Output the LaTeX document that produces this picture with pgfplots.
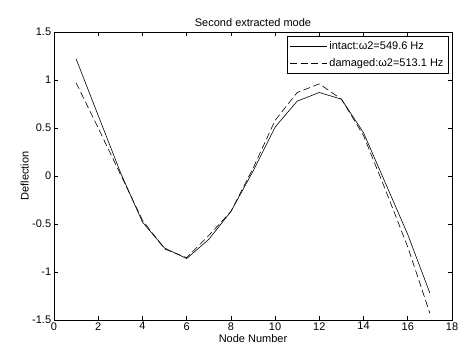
\documentclass[border=0pt]{standalone}
\usepackage{fontspec}
\setmainfont{Liberation Sans}
\usepackage{pgfplots}
\pgfplotsset{compat=1.18}
\begin{document}
\fontsize{11}{13}\selectfont
\begin{tikzpicture}
\useasboundingbox (-54pt,-31pt) rectangle (408pt,320pt);
\begin{axis}[
  scale only axis,
  width=398pt, height=288pt,
  xmin=0, xmax=18, ymin=-1.5, ymax=1.5,
  xtick={0,2,...,18},
  ytick={-1.5,-1,-0.5,0,0.5,1,1.5},
  tick align=inside,
  tick pos=both,
  major tick length=4pt,
  axis line style={black, line width=0.6pt},
  tick style={black, line width=0.6pt},
  /pgf/number format/assume math mode=true,
  ticklabel style={font=\fontsize{11}{13}\selectfont},
  xticklabel style={yshift=1.5pt},
  yticklabel style={xshift=1pt},
  title={Second extracted mode},
  title style={font=\fontsize{11}{13}\selectfont, yshift=-4pt},
  xlabel={Node Number},
  ylabel={Deflection},
  xlabel style={font=\fontsize{11}{13}\selectfont, yshift=3pt},
  ylabel style={font=\fontsize{11}{13}\selectfont, yshift=-4pt},
  legend style={at={(0.992,0.985)}, anchor=north east, draw=black, line width=0.6pt,
    font=\fontsize{11}{13}\selectfont, inner xsep=3pt, inner ysep=3pt, row sep=3pt, cells={anchor=west}},
  legend cell align=left,
  legend image post style={line width=0.6pt},
  legend image code/.code={\draw[#1] (0pt,0pt) -- (37pt,0pt);},
]
\addplot[black, line width=0.6pt] coordinates {
(1,1.22) (2,0.63) (3,0.04) (4,-0.48) (5,-0.75) (6,-0.86) (7,-0.66) (8,-0.37)
(9,0.05) (10,0.51) (11,0.78) (12,0.87) (13,0.80) (14,0.45) (15,-0.08) (16,-0.61) (17,-1.22)};
\addlegendentry{intact:ω2=549.6 Hz}
\addplot[black, line width=0.6pt, dash pattern=on 7pt off 3.5pt] coordinates {
(1,0.97) (2,0.50) (3,0.02) (4,-0.46) (5,-0.76) (6,-0.85) (7,-0.62) (8,-0.37)
(9,0.08) (10,0.58) (11,0.87) (12,0.96) (13,0.80) (14,0.42) (15,-0.15) (16,-0.74) (17,-1.43)};
\addlegendentry{damaged:ω2=513.1 Hz}
\end{axis}
\end{tikzpicture}
\end{document}
